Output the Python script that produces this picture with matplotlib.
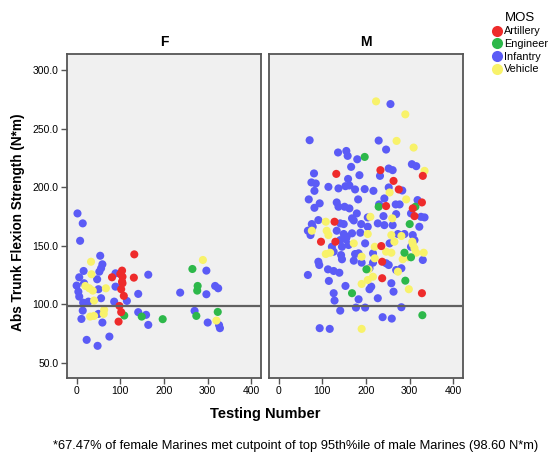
#!/usr/bin/env python
# -*- coding: utf-8 -*-
"""Abs trunk flexion strength by testing number, split by gender and MOS."""

import matplotlib as mpl
mpl.use('Agg')
from matplotlib import pyplot as plt
from matplotlib.lines import Line2D

GRAPH_WIDTH_IN = 5.49
GRAPH_HEIGHT_IN = 4.55
GRAPH_DPI = 100

CUTPOINT = 98.6
MOS_NAMES = ["Artillery", "Engineer", "Infantry", "Vehicle"]
MOS_COLORS = ["#ee2b2b", "#2db84a", "#5b5bf6", "#f8f26a"]

# Female Marines
f_artillery_x = [132, 81, 104, 105, 100, 104, 105, 131, 102, 108, 98, 102, 96]
f_artillery_y = [142.7, 123.1, 128.8, 123.6, 125.9, 119.4, 118.0, 122.8, 112.9,
                 107.2, 98.6, 93.3, 85.2]
f_engineer_x = [109, 149, 197, 265, 277, 276, 274, 323]
f_engineer_y = [90.4, 89.5, 87.3, 130.2, 115.7, 111.7, 90.1, 93.5]
f_infantry_x = [2, 14, 8, 54, 59, 56, 52, 16, 6, 47, 89, 164, 0, 4, 6, 17, 50, 56,
                89, 15, 27, 86, 115, 141, 14, 11, 50, 59, 141, 159, 164, 23, 48,
                75, 237, 297, 317, 324, 297, 270, 300, 326, 328]
f_infantry_y = [177.7, 169.2, 154.3, 141.5, 134.2, 130.8, 127.9, 128.5, 123.1,
                121.4, 126.5, 125.3, 116.0, 110.8, 106.6, 118.0, 112.9, 105.2,
                115.1, 101.4, 102.3, 102.3, 102.9, 108.9, 94.6, 87.5, 91.8, 84.4,
                93.3, 91.0, 82.4, 69.6, 64.5, 72.4, 110.0, 128.8, 115.7, 113.7,
                108.6, 94.4, 84.4, 82.2, 79.6]
f_vehicle_x = [33, 34, 20, 29, 37, 67, 40, 63, 62, 31, 40, 289, 320]
f_vehicle_y = [136.4, 125.7, 115.7, 113.7, 111.7, 113.7, 103.2, 95.2, 91.8, 89.5,
               90.1, 137.9, 86.1]

# Male Marines
m_artillery_x = [233, 330, 132, 263, 275, 328, 246, 307, 128, 311, 97, 130, 235,
                 237, 237, 328]
m_artillery_y = [214.7, 209.8, 211.5, 205.5, 198.2, 187.1, 184.0, 182.0, 170.6,
                 175.4, 153.5, 153.5, 149.8, 136.4, 122.3, 109.5]
m_engineer_x = [197, 313, 229, 300, 288, 303, 201, 290, 168, 329]
m_engineer_y = [226.0, 183.4, 183.4, 168.6, 144.1, 140.2, 129.9, 120.2, 109.5, 90.7]
m_infantry_x = [256, 71, 229, 246, 136, 155, 158, 180, 166, 252, 261, 305, 315, 81,
                159, 185, 232, 75, 85, 114, 137, 153, 162, 175, 197, 217, 252, 283,
                82, 69, 94, 133, 182, 242, 318, 230, 268, 277, 151, 162, 82, 137,
                179, 91, 168, 76, 141, 149, 172, 189, 204, 240, 269, 303, 326, 334,
                204, 227, 242, 261, 322, 67, 73, 78, 133, 149, 156, 168, 187, 273,
                288, 307, 311, 141, 154, 198, 254, 122, 145, 160, 303, 126, 143,
                175, 183, 216, 91, 93, 145, 172, 190, 216, 246, 252, 330, 113, 126,
                139, 208, 269, 281, 67, 115, 153, 258, 208, 212, 263, 126, 183, 128,
                227, 177, 198, 281, 141, 238, 259, 94, 117]
m_infantry_y = [271.2, 240.3, 240.0, 232.3, 229.8, 231.1, 226.9, 224.0, 217.5,
                216.1, 214.7, 219.8, 218.1, 211.9, 207.2, 210.4, 209.8, 204.2,
                203.3, 200.4, 199.1, 201.0, 201.6, 198.2, 198.5, 197.0, 199.9,
                197.3, 197.0, 189.7, 186.3, 187.1, 189.7, 190.5, 189.1, 185.4,
                185.4, 185.4, 183.4, 182.0, 182.5, 183.4, 177.7, 172.0, 173.5,
                168.6, 169.2, 168.6, 171.7, 168.6, 174.3, 175.4, 177.1, 177.7,
                174.8, 174.3, 166.3, 169.2, 167.7, 167.7, 166.3, 162.9, 159.2,
                166.3, 162.9, 160.1, 157.8, 160.7, 161.2, 160.1, 160.1, 159.2,
                154.9, 154.9, 155.5, 152.1, 152.1, 149.2, 149.2, 150.7, 149.2,
                145.0, 142.1, 143.0, 143.6, 143.6, 136.4, 133.6, 138.5, 137.3,
                135.6, 135.6, 135.1, 133.6, 137.9, 129.9, 128.5, 127.0, 130.8,
                129.3, 130.8, 125.1, 120.0, 115.7, 118.0, 112.9, 115.1, 110.8,
                109.5, 104.3, 103.2, 105.2, 97.2, 97.2, 97.5, 94.6, 89.0, 87.8,
                79.6, 79.0]
m_vehicle_x = [223, 290, 270, 309, 334, 254, 292, 108, 210, 260, 76, 110, 114, 204,
               258, 281, 172, 306, 265, 220, 307, 311, 108, 118, 190, 246, 258, 220,
               315, 332, 284, 296, 206, 273, 204, 216, 190, 298, 190]
m_vehicle_y = [273.5, 262.4, 239.7, 234.0, 214.1, 195.6, 189.7, 170.6, 174.8,
               173.5, 162.9, 162.9, 159.2, 160.1, 159.2, 158.4, 152.1, 153.5, 153.5,
               149.2, 151.5, 147.9, 143.0, 144.1, 140.7, 145.0, 144.1, 139.3, 144.1,
               144.1, 138.5, 140.2, 129.9, 127.9, 120.8, 123.6, 117.4, 112.9, 79.0]

X_TICKS = [0, 100, 200, 300, 400]
Y_TICKS = [50, 100, 150, 200, 250, 300]

mpl.rcParams.update({'font.family': ['Liberation Sans', 'DejaVu Sans']})

EDGE = '#555555'
PANEL_BG = '#f0f0f0'


def draw_panel(ax, title, series, show_y):
    ax.set_facecolor(PANEL_BG)
    # draw order: infantry first, the others on top
    for idx in [2, 3, 1, 0]:
        xs, ys = series[idx]
        ax.scatter(xs, ys, s=34, color=MOS_COLORS[idx], edgecolors='none', zorder=3)
    ax.axhline(CUTPOINT, color='#606060', lw=1.6, zorder=4)

    ax.set_xlim(-22, 422)
    ax.set_ylim(37, 314)
    ax.set_xticks(X_TICKS)
    ax.set_yticks(Y_TICKS)
    ax.tick_params(axis='x', direction='out', length=4, width=1, color=EDGE,
                   labelsize=7.5, pad=2)
    if show_y:
        ax.set_yticklabels(["%.1f" % v for v in Y_TICKS])
        ax.tick_params(axis='y', direction='out', length=4, width=1, color=EDGE,
                       labelsize=7.5, pad=2)
    else:
        ax.tick_params(axis='y', left=False, labelleft=False)
    for spine in ax.spines.values():
        spine.set_color(EDGE)
        spine.set_linewidth(1.3)
    ax.set_title(title, fontsize=10, fontweight='bold', pad=6)


def main():
    fig = plt.figure(figsize=(GRAPH_WIDTH_IN, GRAPH_HEIGHT_IN), dpi=GRAPH_DPI,
                     facecolor='w')
    W, H = 549.0, 455.0
    ax_f = fig.add_axes([67 / W, 1 - 378 / H, 194 / W, 324 / H])
    ax_m = fig.add_axes([269 / W, 1 - 378 / H, 194 / W, 324 / H])

    draw_panel(ax_f, "F", [(f_artillery_x, f_artillery_y),
                           (f_engineer_x, f_engineer_y),
                           (f_infantry_x, f_infantry_y),
                           (f_vehicle_x, f_vehicle_y)], True)
    draw_panel(ax_m, "M", [(m_artillery_x, m_artillery_y),
                           (m_engineer_x, m_engineer_y),
                           (m_infantry_x, m_infantry_y),
                           (m_vehicle_x, m_vehicle_y)], False)

    fig.text(18 / W, 1 - 222 / H, "Abs Trunk Flexion Strength (N*m)", rotation=90,
             ha='center', va='center', fontsize=9.8, fontweight='bold')
    fig.text(265 / W, 1 - 414 / H, "Testing Number", ha='center', va='center',
             fontsize=10.5, fontweight='bold')
    fig.text(53 / W, 1 - 446 / H,
             "*67.47% of female Marines met cutpoint of top 95th%ile of male "
             "Marines (98.60 N*m)", ha='left', va='center', fontsize=9.3)

    # legend in the top right corner
    handles = [Line2D([], [], marker='o', ls='none', markersize=8,
                      markerfacecolor=c, markeredgecolor='none') for c in MOS_COLORS]
    fig.legend(handles, MOS_NAMES, title="MOS", loc='upper left',
               bbox_to_anchor=(485 / W, 1 - 4 / H), frameon=False,
               fontsize=7.8, title_fontsize=9.5, handlelength=0.8,
               handletextpad=0.25, labelspacing=0.25, borderpad=0.2)

    fig.savefig("out.png", dpi=GRAPH_DPI)


if __name__ == "__main__":
    main()
